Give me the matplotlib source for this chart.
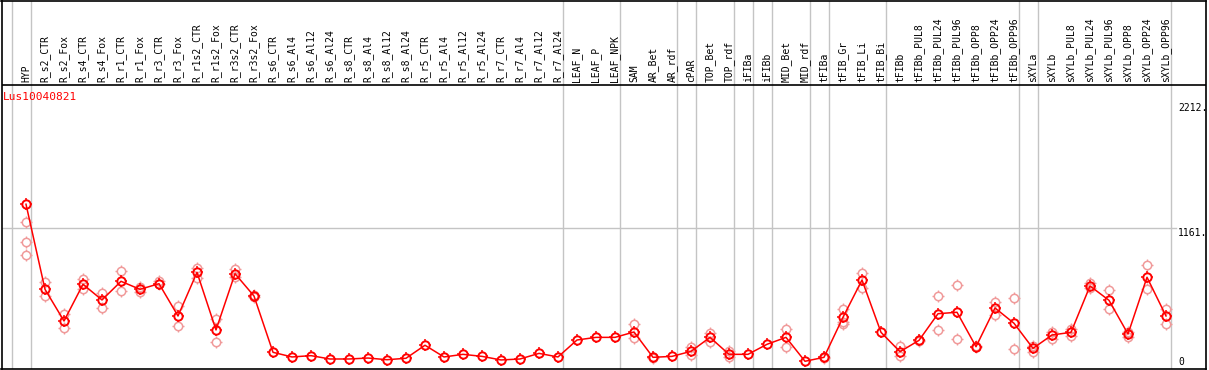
import matplotlib
matplotlib.use("Agg")
import matplotlib.pyplot as plt
from matplotlib.path import Path
import numpy as np

gene = "Lus10040821"

samples = ["HYP", "R_s2_CTR", "R_s2_Fox", "R_s4_CTR", "R_s4_Fox", "R_r1_CTR", "R_r1_Fox",
           "R_r3_CTR", "R_r3_Fox", "R_r1s2_CTR", "R_r1s2_Fox", "R_r3s2_CTR", "R_r3s2_Fox",
           "R_s6_CTR", "R_s6_Al4", "R_s6_Al12", "R_s6_Al24", "R_s8_CTR", "R_s8_Al4",
           "R_s8_Al12", "R_s8_Al24", "R_r5_CTR", "R_r5_Al4", "R_r5_Al12", "R_r5_Al24",
           "R_r7_CTR", "R_r7_Al4", "R_r7_Al12", "R_r7_Al24", "LEAF_N", "LEAF_P", "LEAF_NPK",
           "SAM", "AR_Bet", "AR_rdf", "cPAR", "TOP_Bet", "TOP_rdf", "iFIBa", "iFIBb",
           "MID_Bet", "MID_rdf", "tFIBa", "tFIB_Gr", "tFIB_Li", "tFIB_Bi", "tFIBb",
           "tFIBb_PUL8", "tFIBb_PUL24", "tFIBb_PUL96", "tFIBb_OPP8", "tFIBb_OPP24",
           "tFIBb_OPP96", "sXYLa", "sXYLb", "sXYLb_PUL8", "sXYLb_PUL24", "sXYLb_PUL96",
           "sXYLb_OPP8", "sXYLb_OPP24", "sXYLb_OPP96"]

means = [1362, 650, 385, 692, 561, 717, 650, 697, 427, 792, 310, 781, 594,
         123, 84, 95, 67, 67, 75, 61, 73, 182, 84, 106, 89, 59, 67, 114, 84,
         226, 248, 248, 293, 81, 89, 131, 248, 106, 106, 190, 248, 48, 81,
         416, 728, 290, 128, 223, 446, 458, 170, 494, 366, 156, 268, 290,
         678, 558, 276, 751, 427]

replicates = [[1211, 1043, 935], [709, 592], [441, 324], [734, 653], [617, 491],
              [803, 633], [672, 630], [722, 692], [510, 343], [826, 742], [399, 207],
              [817, 756], [600, 588],
              [], [], [], [], [], [], [], [], [], [], [], [], [], [], [], [],
              [], [], [], [360, 240], [86, 76], [], [165, 98], [287, 212], [137, 81],
              [], [], [321, 170], [], [85, 77],
              [488, 377, 360], [784, 658], [], [178, 95], [230, 215], [592, 307],
              [684, 232], [176, 164], [544, 432], [575, 148], [178, 128], [296, 234],
              [318, 259], [700, 658], [642, 483], [296, 254], [851, 650], [485, 362]]

# vertical separators sit just right of these sample columns
separators = [-1, 0, 28, 31, 34, 35, 37, 38, 39, 41, 42, 45, 52, 53, 60]
scale_values = [2212, 1161, 0]

# pixel layout of the original
W, H = 1209, 370
x0_px, dx_px = 26.0, 19.0
y0_px, dy_px = 367.0, 0.1195
head_px = 85

fig = plt.figure(figsize=(W / 100, H / 100), dpi=100)
left_px, right_px, top_px, bot_px = 1.5, 1205.5, 0.5, 368.5
ax = fig.add_axes([left_px / W, 1 - bot_px / H, (right_px - left_px) / W, (bot_px - top_px) / H])
ax.set_xlim((left_px - x0_px) / dx_px, (right_px - x0_px) / dx_px)
ax.set_ylim((y0_px - bot_px) / dy_px, (y0_px - top_px) / dy_px)
ax.set_xticks([])
ax.set_yticks([])
for s in ax.spines.values():
    s.set_color("black")
    s.set_linewidth(1.2)

head_val = (y0_px - head_px) / dy_px
ax.axhline(head_val, color="black", lw=1.2, zorder=3)

for s in separators:
    ax.axvline(s + 0.25, color="#c4c4c4", lw=1.0, zorder=1)

ax.plot([ax.get_xlim()[0], 60.55], [1161, 1161], color="#c4c4c4", lw=1.0, zorder=1)

# little ticks sticking out of each circle (top, bottom, left, right)
tick_marker = Path([(0, 0.72), (0, 1), (0, -0.72), (0, -1), (0.72, 0), (1, 0), (-0.72, 0), (-1, 0)],
                   [Path.MOVETO, Path.LINETO] * 4)

xs = np.arange(len(samples))
for i, reps in enumerate(replicates):
    if reps:
        ax.plot([i] * len(reps), reps, linestyle="none", marker="o", ms=6.0,
                mfc="none", mec="#f09a9a", mew=1.1, zorder=2)
        ax.plot([i] * len(reps), reps, linestyle="none", marker=tick_marker, ms=8.6,
                mec="#f09a9a", mew=1.0, zorder=2)

ax.plot(xs, means, color="#ff0000", lw=1.1, marker="o", ms=6.0,
        mfc="none", mec="#ff0000", mew=1.4, zorder=4)
ax.plot(xs, means, linestyle="none", marker=tick_marker, ms=8.6,
        mec="#ff0000", mew=1.1, zorder=4)

for i, name in enumerate(samples):
    ax.text(i, head_val + 2.5 / dy_px, name, rotation=90, ha="center", va="bottom",
            family="DejaVu Sans Mono", fontsize=7, color="black")

lab_x = (1178 - x0_px) / dx_px
for v in scale_values:
    label = "0" if v == 0 else "%d." % v
    ax.text(lab_x, v, label, ha="left", va="bottom" if v == 0 else "top",
            family="DejaVu Sans Mono", fontsize=7, color="black")

ax.text((3 - x0_px) / dx_px, (y0_px - 97) / dy_px, gene, ha="left", va="center",
        family="DejaVu Sans Mono", fontsize=8, color="#ff0000", zorder=5)

fig.savefig("out.png", dpi=100)
